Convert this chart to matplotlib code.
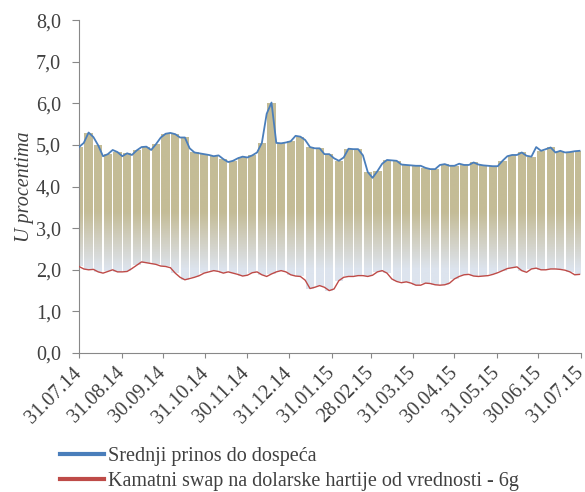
import matplotlib
matplotlib.use("Agg")
import matplotlib.pyplot as plt
import matplotlib.dates as mdates
import matplotlib.transforms as mtransforms
from matplotlib.colors import LinearSegmentedColormap
from matplotlib.path import Path
import numpy as np
import pandas as pd

plt.rcParams['font.family'] = ['Liberation Serif', 'DejaVu Serif']

# podaci - polunedeljni presek (svake 3,5 dana)
start_date = "2014-07-31"
yield_vals = [
    4.95, 5.05, 5.30, 5.19, 4.99, 4.73, 4.78, 4.88, 4.83, 4.73,
    4.80, 4.76, 4.87, 4.95, 4.96, 4.88, 5.02, 5.18, 5.27, 5.29,
    5.26, 5.18, 5.18, 4.92, 4.82, 4.80, 4.78, 4.76, 4.73, 4.75,
    4.66, 4.59, 4.62, 4.68, 4.72, 4.70, 4.75, 4.82, 5.05, 5.75,
    6.02, 5.05, 5.04, 5.06, 5.09, 5.22, 5.20, 5.12, 4.95, 4.92,
    4.92, 4.78, 4.78, 4.68, 4.62, 4.70, 4.91, 4.90, 4.90, 4.75,
    4.35, 4.21, 4.37, 4.55, 4.64, 4.63, 4.62, 4.53, 4.52, 4.51,
    4.50, 4.50, 4.45, 4.42, 4.42, 4.52, 4.54, 4.50, 4.50, 4.55,
    4.52, 4.52, 4.58, 4.53, 4.51, 4.50, 4.49, 4.49, 4.62, 4.73,
    4.76, 4.76, 4.82, 4.74, 4.72, 4.95, 4.86, 4.90, 4.94, 4.82,
    4.86, 4.82, 4.83, 4.85, 4.86,
]
swap_vals = [
    2.08, 2.02, 2.00, 2.01, 1.95, 1.92, 1.96, 2.00, 1.95, 1.95,
    1.96, 2.03, 2.11, 2.19, 2.17, 2.15, 2.13, 2.09, 2.08, 2.05,
    1.92, 1.82, 1.76, 1.79, 1.82, 1.86, 1.92, 1.95, 1.98, 1.96,
    1.92, 1.95, 1.92, 1.89, 1.85, 1.87, 1.93, 1.95, 1.88, 1.84,
    1.90, 1.95, 1.98, 1.95, 1.88, 1.85, 1.84, 1.75, 1.55, 1.58,
    1.62, 1.58, 1.50, 1.54, 1.74, 1.82, 1.84, 1.84, 1.86, 1.86,
    1.84, 1.87, 1.95, 1.98, 1.92, 1.78, 1.72, 1.69, 1.71, 1.68,
    1.63, 1.63, 1.68, 1.67, 1.64, 1.63, 1.64, 1.68, 1.78, 1.84,
    1.88, 1.89, 1.85, 1.84, 1.85, 1.86, 1.89, 1.93, 1.98, 2.03,
    2.05, 2.07, 1.98, 1.94, 2.02, 2.04, 2.00, 2.00, 2.02, 2.02,
    2.01, 1.99, 1.95, 1.88, 1.89,
]
tick_dates = ["2014-07-31", "2014-08-31", "2014-09-30", "2014-10-31", "2014-11-30",
              "2014-12-31", "2015-01-31", "2015-02-28", "2015-03-31", "2015-04-30",
              "2015-05-31", "2015-06-30", "2015-07-31"]
tick_labels = ["31.07.14", "31.08.14", "30.09.14", "31.10.14", "30.11.14", "31.12.14",
               "31.01.15", "28.02.15", "31.03.15", "30.04.15", "31.05.15", "30.06.15",
               "31.07.15"]
yield_label = "Srednji prinos do dospeća"
swap_label = "Kamatni swap na dolarske hartije od vrednosti - 6g"

dates = pd.date_range(start_date, periods=len(yield_vals), freq="84h")
x = mdates.date2num(dates.to_pydatetime())
yv = np.array(yield_vals)
sv = np.array(swap_vals)
ticks = mdates.date2num(pd.to_datetime(tick_dates).to_pydatetime())

text_col = "#404040"
fs = 14.5
fig = plt.figure(figsize=(5.85, 4.92), dpi=100)
ax = fig.add_axes([0.135, 0.2825, 0.858, 0.6765])

# nedeljni stubici izmedju dve linije, sa gradijentom
bx = x[::2]
bars = ax.bar(bx, yv[::2] - sv[::2], bottom=sv[::2], width=6.0,
              color="none", edgecolor="none")
clip = Path.make_compound_path(*[b.get_path().transformed(b.get_patch_transform()) for b in bars])
cmap = LinearSegmentedColormap.from_list(
    "grad", [(0, "#dde4ee"), (2.0 / 8, "#dde4ee"), (2.6 / 8, "#d3d2c8"),
             (3.4 / 8, "#c4bc96"), (1, "#c4bc96")])
grad = np.linspace(0, 1, 400).reshape(-1, 1)
im = ax.imshow(grad, extent=[ticks[0] - 5, ticks[-1] + 5, 0, 8], origin="lower",
               aspect="auto", cmap=cmap, zorder=1, interpolation="bilinear")
im.set_clip_path(clip, ax.transData)

ax.plot(x, yv, color="#4a7ebb", lw=1.3, zorder=3, label=yield_label)
ax.plot(x, sv, color="#be4b48", lw=1.0, zorder=3, label=swap_label)

ax.set_xlim(ticks[0], ticks[-1])
ax.set_ylim(0, 8)
ax.set_yticks(np.arange(0, 9, 1))
ax.set_yticklabels([f"{v:.1f}".replace(".", ",") for v in range(9)])
ax.set_xticks(ticks)
ax.set_xticklabels(tick_labels, rotation=45, ha="right", va="center",
                   rotation_mode="anchor")
shift = mtransforms.ScaledTranslation(-0.045, 0, fig.dpi_scale_trans)
for lbl in ax.get_xticklabels():
    lbl.set_transform(lbl.get_transform() + shift)

for s in ["top", "right"]:
    ax.spines[s].set_visible(False)
for s in ["left", "bottom"]:
    ax.spines[s].set_color("#888888")
ax.tick_params(axis="both", colors="#888888", labelcolor=text_col, labelsize=fs,
               direction="out")
ax.tick_params(axis="y", length=5, pad=8)
ax.tick_params(axis="x", length=3.5, pad=9)
ax.set_ylabel("U procentima", fontsize=fs, style="italic", color=text_col, labelpad=1)

leg = fig.legend(handles=ax.get_lines(), loc="upper left", bbox_to_anchor=(0.1026, 0.091),
                 frameon=False, fontsize=fs, handlelength=2.2, handletextpad=0.2,
                 labelspacing=0.3, borderaxespad=0, borderpad=0)
for h in leg.get_lines():
    h.set_linewidth(3)
for t in leg.get_texts():
    t.set_color(text_col)

fig.savefig("out.png", dpi=100)
